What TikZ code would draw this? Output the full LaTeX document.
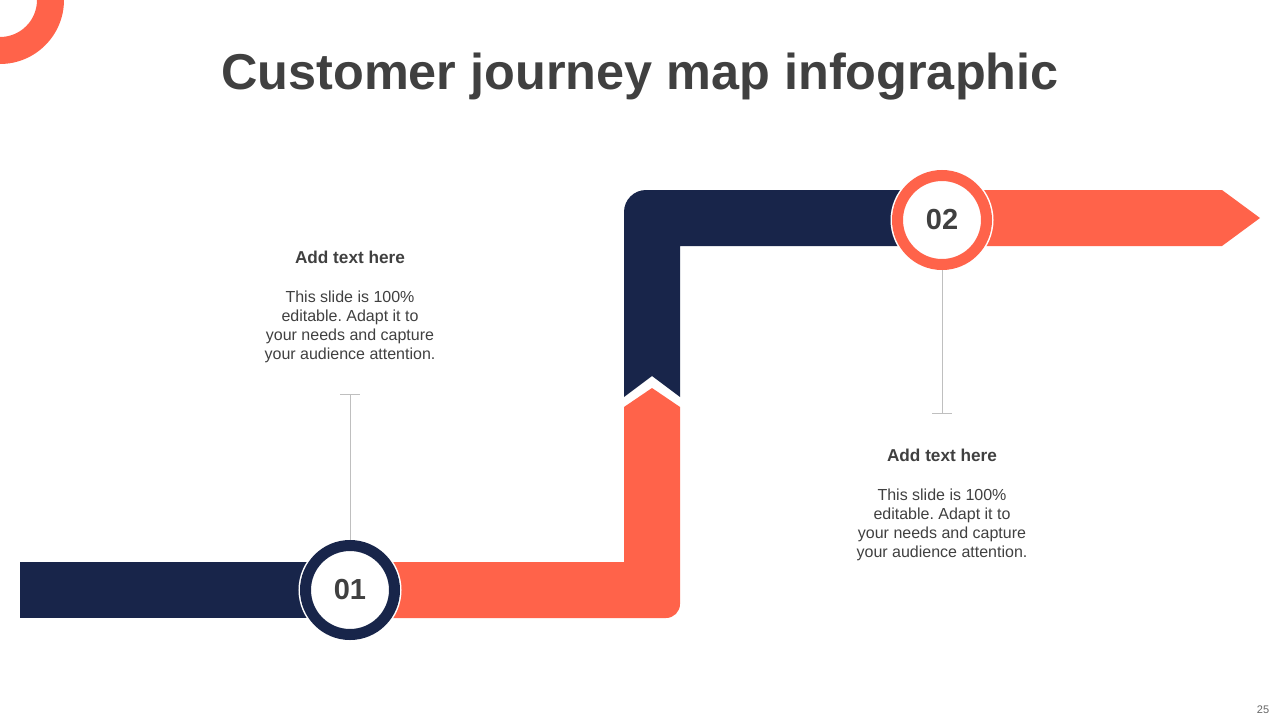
\documentclass[tikz,border=0pt]{standalone}
\usepackage{fontspec}
\setmainfont{Liberation Sans}
\usepackage{xcolor}
\usetikzlibrary{positioning}
\definecolor{journeynavy}{HTML}{18254A}
\definecolor{journeycoral}{HTML}{FF634A}
\definecolor{titlegray}{HTML}{404040}
\definecolor{leadgray}{HTML}{BFBFBF}
\frenchspacing

\begin{document}
\begin{tikzpicture}[x=1pt, y=-1pt,
    numring/.style={circle, fill=white, line width=11pt, minimum size=89pt, inner sep=0pt,
      preaction={draw=white, line width=14pt}, text=titlegray,
      font=\fontsize{29}{29}\selectfont\bfseries},
    headtxt/.style={anchor=base, text=titlegray, font=\fontsize{17.2}{20}\selectfont\bfseries},
    bodytxt/.style={align=center, text=titlegray, font=\fontsize{16}{19}\selectfont},
    leader/.style={draw=leadgray, line width=0.8pt}]
  \useasboundingbox (0,0) rectangle (1280,720);

  % corner ring
  \fill[journeycoral, even odd rule] (0,0) circle (64) (0,0) circle (37);

  \node[anchor=base, text=titlegray, font=\fontsize{50.4}{60}\selectfont\bfseries] (title)
    at (640,89) {Customer journey map infographic};

  % route
  \fill[journeynavy] (20,562) rectangle (350,618);
  \fill[journeycoral] (350,562) -- (624,562) -- (624,407) -- (652,388) -- (680,407)
    -- (680,604) arc (0:90:14) -- (350,618) -- cycle;
  \fill[journeynavy] (624,397) -- (624,212) arc (180:270:22) -- (942,190) -- (942,246)
    -- (680,246) -- (680,397) -- (652,376) -- cycle;
  \fill[journeycoral] (942,190) -- (1222,190) -- (1260,218) -- (1222,246) -- (942,246) -- cycle;

  \node[numring, draw=journeynavy] (n1) at (350,590) {01};
  \node[numring, draw=journeycoral] (n2) at (942,220) {02};

  \coordinate (t1) at (350,394);
  \coordinate (t2) at (942,413);
  \draw[leader] (n1.north) -- (t1) ([xshift=-10pt]t1) -- ([xshift=10pt]t1);
  \draw[leader] (n2.south) -- (t2) ([xshift=-10pt]t2) -- ([xshift=10pt]t2);

  \node[headtxt] (h1) at (350,263.5) {Add text here};
  \node[bodytxt, below=20pt of h1] (b1) {This slide is 100\%\\editable. Adapt it to\\your needs and capture\\your audience attention.};
  \node[headtxt] (h2) at (942,461.5) {Add text here};
  \node[bodytxt, below=20pt of h2] (b2) {This slide is 100\%\\editable. Adapt it to\\your needs and capture\\your audience attention.};

  \node[text=titlegray!80, font=\fontsize{11}{13}\selectfont] (pg) at (1263,710) {25};
\end{tikzpicture}
\end{document}
